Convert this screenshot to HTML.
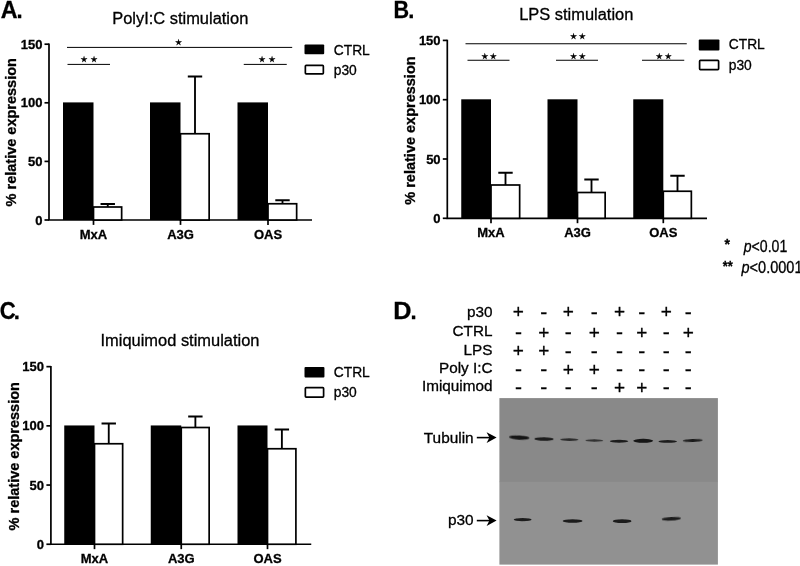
<!DOCTYPE html>
<html lang="en"><head><meta charset="utf-8"><title>Figure</title>
<style>
html,body{margin:0;padding:0;background:#fff;}
svg{display:block;}
svg text{font-family:"Liberation Sans", Arial, Helvetica, sans-serif;fill:#000;stroke:#000;stroke-width:0.3px;}
</style></head><body>
<svg width="800" height="566" viewBox="0 0 800 566">
<defs><filter id="bl" x="-20%" y="-100%" width="140%" height="300%"><feGaussianBlur stdDeviation="0.7"/></filter></defs>
<rect width="800" height="566" fill="#fff"/>
<path d="M49 43.50V220H312" fill="none" stroke="#000" stroke-width="1.7"/>
<path d="M44.5 220.00H49" stroke="#000" stroke-width="1.7"/>
<text x="42.4" y="224.60" text-anchor="end" font-weight="bold" font-size="13">0</text>
<path d="M44.5 161.40H49" stroke="#000" stroke-width="1.7"/>
<text x="42.4" y="166.00" text-anchor="end" font-weight="bold" font-size="13">50</text>
<path d="M44.5 102.80H49" stroke="#000" stroke-width="1.7"/>
<text x="42.4" y="107.40" text-anchor="end" font-weight="bold" font-size="13">100</text>
<path d="M44.5 44.20H49" stroke="#000" stroke-width="1.7"/>
<text x="42.4" y="48.80" text-anchor="end" font-weight="bold" font-size="13">150</text>
<rect x="63" y="102.40" width="30.5" height="117.60" fill="#000"/>
<path d="M107.75 207V203.75M100.55 203.95H114.95" stroke="#000" stroke-width="1.8499999999999999" fill="none"/>
<rect x="93.5" y="207" width="28.15" height="13.00" fill="#fff" stroke="#000" stroke-width="1.7"/>
<path d="M93.5 220V224.9" stroke="#000" stroke-width="1.7"/>
<text x="93.5" y="238.8" text-anchor="middle" font-weight="bold" font-size="13">MxA</text>
<rect x="150" y="102.40" width="30.5" height="117.60" fill="#000"/>
<path d="M195.00 133.75V76.25M187.80 76.45H202.20" stroke="#000" stroke-width="1.8499999999999999" fill="none"/>
<rect x="180.5" y="133.75" width="28.65" height="86.25" fill="#fff" stroke="#000" stroke-width="1.7"/>
<path d="M180.5 220V224.9" stroke="#000" stroke-width="1.7"/>
<text x="180.5" y="238.8" text-anchor="middle" font-weight="bold" font-size="13">A3G</text>
<rect x="237.5" y="102.40" width="30.5" height="117.60" fill="#000"/>
<path d="M282.50 203.75V200M275.30 200.2H289.70" stroke="#000" stroke-width="1.8499999999999999" fill="none"/>
<rect x="268" y="203.75" width="28.65" height="16.25" fill="#fff" stroke="#000" stroke-width="1.7"/>
<path d="M268 220V224.9" stroke="#000" stroke-width="1.7"/>
<text x="268" y="238.8" text-anchor="middle" font-weight="bold" font-size="13">OAS</text>
<text x="180.25" y="23.75" text-anchor="middle" font-size="16.45">PolyI:C stimulation</text>
<text transform="translate(16.3 206.4) rotate(-90)" font-weight="bold" font-size="14.5">% relative expression</text>
<rect x="304.5" y="44.5" width="19.70" height="9.85" rx="1" fill="#000"/>
<rect x="305.35" y="65.40" width="18.00" height="8.40" rx="0.8" fill="#fff" stroke="#000" stroke-width="1.7"/>
<text x="333.75" y="54.5" font-size="13.8">CTRL</text>
<text x="333.75" y="74.5" font-size="13.8">p30</text>
<path d="M67 47.4H292.2" stroke="#000" stroke-width="1.0"/>
<text x="178.6" y="44.6" text-anchor="middle" font-size="7.9" style="font-family:'DejaVu Sans',sans-serif">★</text>
<path d="M67.5 64.4H110" stroke="#000" stroke-width="1.0"/>
<text x="84" y="61.6" text-anchor="middle" font-size="7.9" style="font-family:'DejaVu Sans',sans-serif">★</text>
<text x="94" y="61.6" text-anchor="middle" font-size="7.9" style="font-family:'DejaVu Sans',sans-serif">★</text>
<path d="M243.75 64.4H286.75" stroke="#000" stroke-width="1.0"/>
<text x="262" y="61.6" text-anchor="middle" font-size="7.9" style="font-family:'DejaVu Sans',sans-serif">★</text>
<text x="272" y="61.6" text-anchor="middle" font-size="7.9" style="font-family:'DejaVu Sans',sans-serif">★</text>
<path d="M447.3 39.70V218.3H707" fill="none" stroke="#000" stroke-width="1.7"/>
<path d="M442.8 218.30H447.3" stroke="#000" stroke-width="1.7"/>
<text x="440.6" y="222.90" text-anchor="end" font-weight="bold" font-size="13">0</text>
<path d="M442.8 159.00H447.3" stroke="#000" stroke-width="1.7"/>
<text x="440.6" y="163.60" text-anchor="end" font-weight="bold" font-size="13">50</text>
<path d="M442.8 99.70H447.3" stroke="#000" stroke-width="1.7"/>
<text x="440.6" y="104.30" text-anchor="end" font-weight="bold" font-size="13">100</text>
<path d="M442.8 40.40H447.3" stroke="#000" stroke-width="1.7"/>
<text x="440.6" y="45.00" text-anchor="end" font-weight="bold" font-size="13">150</text>
<rect x="461.25" y="99.30" width="29.75" height="119.00" fill="#000"/>
<path d="M505.50 185V172.5M498.30 172.7H512.70" stroke="#000" stroke-width="1.8499999999999999" fill="none"/>
<rect x="491" y="185" width="28.65" height="33.30" fill="#fff" stroke="#000" stroke-width="1.7"/>
<path d="M491 218.3V223.20000000000002" stroke="#000" stroke-width="1.7"/>
<text x="491" y="237" text-anchor="middle" font-weight="bold" font-size="13">MxA</text>
<rect x="547.5" y="99.30" width="30.0" height="119.00" fill="#000"/>
<path d="M591.50 192.5V179.25M584.30 179.45H598.70" stroke="#000" stroke-width="1.8499999999999999" fill="none"/>
<rect x="577.5" y="192.5" width="27.65" height="25.80" fill="#fff" stroke="#000" stroke-width="1.7"/>
<path d="M577.5 218.3V223.20000000000002" stroke="#000" stroke-width="1.7"/>
<text x="577.5" y="237" text-anchor="middle" font-weight="bold" font-size="13">A3G</text>
<rect x="633.25" y="99.30" width="30.049999999999955" height="119.00" fill="#000"/>
<path d="M677.50 191.25V175.5M670.30 175.7H684.70" stroke="#000" stroke-width="1.8499999999999999" fill="none"/>
<rect x="663.3" y="191.25" width="28.05000000000009" height="27.05" fill="#fff" stroke="#000" stroke-width="1.7"/>
<path d="M663.3 218.3V223.20000000000002" stroke="#000" stroke-width="1.7"/>
<text x="663.3" y="237" text-anchor="middle" font-weight="bold" font-size="13">OAS</text>
<text x="576.25" y="19.5" text-anchor="middle" font-size="16.45">LPS stimulation</text>
<text transform="translate(415.4 204.7) rotate(-90)" font-weight="bold" font-size="14.5">% relative expression</text>
<rect x="698.75" y="39.5" width="20.70" height="11.10" rx="1" fill="#000"/>
<rect x="699.6" y="60.40" width="19.00" height="9.15" rx="0.8" fill="#fff" stroke="#000" stroke-width="1.7"/>
<text x="728.75" y="49" font-size="13.8">CTRL</text>
<text x="728.75" y="69.5" font-size="13.8">p30</text>
<path d="M465.5 43.75H686.75" stroke="#000" stroke-width="1.0"/>
<text x="573.6" y="39.2" text-anchor="middle" font-size="7.9" style="font-family:'DejaVu Sans',sans-serif">★</text>
<text x="582.4" y="39.2" text-anchor="middle" font-size="7.9" style="font-family:'DejaVu Sans',sans-serif">★</text>
<path d="M467.5 60.25H509.5" stroke="#000" stroke-width="1.0"/>
<text x="484.7" y="59" text-anchor="middle" font-size="7.9" style="font-family:'DejaVu Sans',sans-serif">★</text>
<text x="493.4" y="59" text-anchor="middle" font-size="7.9" style="font-family:'DejaVu Sans',sans-serif">★</text>
<path d="M556 60.25H598" stroke="#000" stroke-width="1.0"/>
<text x="573.5" y="59" text-anchor="middle" font-size="7.9" style="font-family:'DejaVu Sans',sans-serif">★</text>
<text x="582.4" y="59" text-anchor="middle" font-size="7.9" style="font-family:'DejaVu Sans',sans-serif">★</text>
<path d="M642 60.25H684.25" stroke="#000" stroke-width="1.0"/>
<text x="659.3" y="59" text-anchor="middle" font-size="7.9" style="font-family:'DejaVu Sans',sans-serif">★</text>
<text x="668.2" y="59" text-anchor="middle" font-size="7.9" style="font-family:'DejaVu Sans',sans-serif">★</text>
<path d="M50.9 365.95V544.25H311.25" fill="none" stroke="#000" stroke-width="1.7"/>
<path d="M46.4 544.25H50.9" stroke="#000" stroke-width="1.7"/>
<text x="44" y="548.85" text-anchor="end" font-weight="bold" font-size="13">0</text>
<path d="M46.4 485.05H50.9" stroke="#000" stroke-width="1.7"/>
<text x="44" y="489.65" text-anchor="end" font-weight="bold" font-size="13">50</text>
<path d="M46.4 425.85H50.9" stroke="#000" stroke-width="1.7"/>
<text x="44" y="430.45" text-anchor="end" font-weight="bold" font-size="13">100</text>
<path d="M46.4 366.65H50.9" stroke="#000" stroke-width="1.7"/>
<text x="44" y="371.25" text-anchor="end" font-weight="bold" font-size="13">150</text>
<rect x="64.25" y="425.45" width="30.25" height="118.80" fill="#000"/>
<path d="M108.75 443.75V423.25M101.55 423.45H115.95" stroke="#000" stroke-width="1.8499999999999999" fill="none"/>
<rect x="94.5" y="443.75" width="28.15" height="100.50" fill="#fff" stroke="#000" stroke-width="1.7"/>
<path d="M94.5 544.25V549.15" stroke="#000" stroke-width="1.7"/>
<text x="94.5" y="563.25" text-anchor="middle" font-weight="bold" font-size="13">MxA</text>
<rect x="150.75" y="425.45" width="30.5" height="118.80" fill="#000"/>
<path d="M195.38 427.5V416.25M188.18 416.45H202.57" stroke="#000" stroke-width="1.8499999999999999" fill="none"/>
<rect x="181.25" y="427.5" width="27.9" height="116.75" fill="#fff" stroke="#000" stroke-width="1.7"/>
<path d="M181.25 544.25V549.15" stroke="#000" stroke-width="1.7"/>
<text x="181.25" y="563.25" text-anchor="middle" font-weight="bold" font-size="13">A3G</text>
<rect x="237.5" y="425.45" width="30.0" height="118.80" fill="#000"/>
<path d="M281.88 448.75V429.25M274.68 429.45H289.07" stroke="#000" stroke-width="1.8499999999999999" fill="none"/>
<rect x="267.5" y="448.75" width="28.4" height="95.50" fill="#fff" stroke="#000" stroke-width="1.7"/>
<path d="M267.5 544.25V549.15" stroke="#000" stroke-width="1.7"/>
<text x="267.5" y="563.25" text-anchor="middle" font-weight="bold" font-size="13">OAS</text>
<text x="180.0" y="345.5" text-anchor="middle" font-size="16.45">Imiquimod stimulation</text>
<text transform="translate(18.5 530.4) rotate(-90)" font-weight="bold" font-size="14.5">% relative expression</text>
<rect x="304.5" y="367" width="19.95" height="10.60" rx="1" fill="#000"/>
<rect x="305.35" y="387.65" width="18.25" height="9.40" rx="0.8" fill="#fff" stroke="#000" stroke-width="1.7"/>
<text x="333.75" y="376.5" font-size="13.8">CTRL</text>
<text x="333.75" y="397" font-size="13.8">p30</text>
<text transform="translate(0.8 17.6) scale(0.97 1)" font-weight="bold" font-size="24">A</text>
<text x="16.4" y="17.6" font-weight="bold" font-size="22">.</text>
<text transform="translate(393.5 17.8) scale(0.9 1)" font-weight="bold" font-size="24">B</text>
<text x="408.2" y="17.8" font-weight="bold" font-size="22">.</text>
<text transform="translate(-0.3 319.3) scale(0.92 1)" font-weight="bold" font-size="24">C</text>
<text x="13.8" y="319.3" font-weight="bold" font-size="22">.</text>
<text transform="translate(393.3 318.6) scale(1.05 1)" font-weight="bold" font-size="24">D</text>
<text x="410.4" y="318.6" font-weight="bold" font-size="22">.</text>
<text x="727.2" y="248.6" text-anchor="middle" font-size="14" font-weight="bold">*</text>
<text x="743.75" y="251.8" font-size="16" textLength="43.5" lengthAdjust="spacingAndGlyphs"><tspan font-style="italic">p</tspan>&lt;0.01</text>
<text x="727.8" y="271.2" text-anchor="middle" font-size="15" font-weight="bold" textLength="10" lengthAdjust="spacingAndGlyphs">**</text>
<text x="741.5" y="272.5" font-size="16" textLength="61" lengthAdjust="spacingAndGlyphs"><tspan font-style="italic">p</tspan>&lt;0.0001</text>
<text x="492.5" y="317" text-anchor="end" font-size="15.3">p30</text>
<text x="518.4" y="318.40" text-anchor="middle" font-size="19">+</text>
<text x="543.7" y="319.00" text-anchor="middle" font-size="21">-</text>
<text x="568.3" y="318.40" text-anchor="middle" font-size="19">+</text>
<text x="594.25" y="319.00" text-anchor="middle" font-size="21">-</text>
<text x="619.5" y="318.40" text-anchor="middle" font-size="19">+</text>
<text x="641.75" y="319.00" text-anchor="middle" font-size="21">-</text>
<text x="666.25" y="318.40" text-anchor="middle" font-size="19">+</text>
<text x="688.25" y="319.00" text-anchor="middle" font-size="21">-</text>
<text x="492.5" y="336.25" text-anchor="end" font-size="15.3">CTRL</text>
<text x="518.4" y="339.00" text-anchor="middle" font-size="21">-</text>
<text x="543.7" y="338.60" text-anchor="middle" font-size="19">+</text>
<text x="568.3" y="339.00" text-anchor="middle" font-size="21">-</text>
<text x="594.25" y="338.60" text-anchor="middle" font-size="19">+</text>
<text x="619.5" y="339.00" text-anchor="middle" font-size="21">-</text>
<text x="641.75" y="338.60" text-anchor="middle" font-size="19">+</text>
<text x="666.25" y="339.00" text-anchor="middle" font-size="21">-</text>
<text x="688.25" y="338.60" text-anchor="middle" font-size="19">+</text>
<text x="492.5" y="355" text-anchor="end" font-size="15.3">LPS</text>
<text x="518.4" y="356.80" text-anchor="middle" font-size="19">+</text>
<text x="543.7" y="356.80" text-anchor="middle" font-size="19">+</text>
<text x="568.3" y="357.80" text-anchor="middle" font-size="21">-</text>
<text x="594.25" y="357.80" text-anchor="middle" font-size="21">-</text>
<text x="619.5" y="357.80" text-anchor="middle" font-size="21">-</text>
<text x="641.75" y="357.80" text-anchor="middle" font-size="21">-</text>
<text x="666.25" y="357.80" text-anchor="middle" font-size="21">-</text>
<text x="688.25" y="357.80" text-anchor="middle" font-size="21">-</text>
<text x="492.5" y="372.5" text-anchor="end" font-size="15.3">Poly I:C</text>
<text x="518.4" y="375.80" text-anchor="middle" font-size="21">-</text>
<text x="543.7" y="375.80" text-anchor="middle" font-size="21">-</text>
<text x="568.3" y="375.60" text-anchor="middle" font-size="19">+</text>
<text x="594.25" y="375.60" text-anchor="middle" font-size="19">+</text>
<text x="619.5" y="375.80" text-anchor="middle" font-size="21">-</text>
<text x="641.75" y="375.80" text-anchor="middle" font-size="21">-</text>
<text x="666.25" y="375.80" text-anchor="middle" font-size="21">-</text>
<text x="688.25" y="375.80" text-anchor="middle" font-size="21">-</text>
<text x="492.5" y="391.25" text-anchor="end" font-size="15.3">Imiquimod</text>
<text x="518.4" y="394.00" text-anchor="middle" font-size="21">-</text>
<text x="543.7" y="394.00" text-anchor="middle" font-size="21">-</text>
<text x="568.3" y="394.00" text-anchor="middle" font-size="21">-</text>
<text x="594.25" y="394.00" text-anchor="middle" font-size="21">-</text>
<text x="619.5" y="394.30" text-anchor="middle" font-size="19">+</text>
<text x="641.75" y="394.30" text-anchor="middle" font-size="19">+</text>
<text x="666.25" y="394.00" text-anchor="middle" font-size="21">-</text>
<text x="688.25" y="394.00" text-anchor="middle" font-size="21">-</text>
<rect x="499.4" y="398.1" width="218.5" height="84" fill="#898989"/>
<rect x="499.4" y="481.75" width="218.5" height="82.85" fill="#919191"/>
<ellipse cx="519.25" cy="437.6" rx="10.35" ry="2.1" fill="#161616" filter="url(#bl)" transform="rotate(3 519.25 437.6)"/>
<ellipse cx="544.00" cy="439" rx="9.60" ry="1.8" fill="#1a1a1a" filter="url(#bl)" transform="rotate(1 544.00 439)"/>
<ellipse cx="569.30" cy="439.6" rx="9.30" ry="1.3" fill="#2c2c2c" filter="url(#bl)" transform="rotate(1 569.30 439.6)"/>
<ellipse cx="594.30" cy="440.5" rx="9.00" ry="1.2" fill="#303030" filter="url(#bl)" transform="rotate(1 594.30 440.5)"/>
<ellipse cx="619.05" cy="441.2" rx="9.25" ry="1.5" fill="#1c1c1c" filter="url(#bl)" transform="rotate(0 619.05 441.2)"/>
<ellipse cx="643.20" cy="440.8" rx="10.00" ry="2.0" fill="#141414" filter="url(#bl)" transform="rotate(0 643.20 440.8)"/>
<ellipse cx="667.70" cy="441.4" rx="9.30" ry="1.4" fill="#1e1e1e" filter="url(#bl)" transform="rotate(0 667.70 441.4)"/>
<ellipse cx="692.75" cy="440.5" rx="10.05" ry="1.5" fill="#1a1a1a" filter="url(#bl)" transform="rotate(-2 692.75 440.5)"/>
<ellipse cx="522.67" cy="519.6" rx="8.93" ry="1.7" fill="#1c1c1c" filter="url(#bl)" transform="rotate(0 522.67 519.6)"/>
<ellipse cx="572.60" cy="521" rx="9.90" ry="1.8" fill="#1c1c1c" filter="url(#bl)" transform="rotate(0 572.60 521)"/>
<ellipse cx="622.15" cy="521.2" rx="9.35" ry="1.9" fill="#1c1c1c" filter="url(#bl)" transform="rotate(0 622.15 521.2)"/>
<ellipse cx="671.35" cy="518.75" rx="9.65" ry="1.8" fill="#1c1c1c" filter="url(#bl)" transform="rotate(-3 671.35 518.75)"/>
<text x="473.7" y="442.9" text-anchor="end" font-size="15.4">Tubulin</text>
<text x="473.7" y="525.3" text-anchor="end" font-size="15.4">p30</text>
<path d="M476.8 437.6H494" stroke="#000" stroke-width="1.6" fill="none"/>
<path d="M496.6 437.6L486.6 432.20000000000005L489.4 437.6L486.6 443.0Z" fill="#000"/>
<path d="M476.8 520.6H494" stroke="#000" stroke-width="1.6" fill="none"/>
<path d="M496.6 520.6L486.6 515.2L489.4 520.6L486.6 526.0Z" fill="#000"/>
</svg>
</body></html>
